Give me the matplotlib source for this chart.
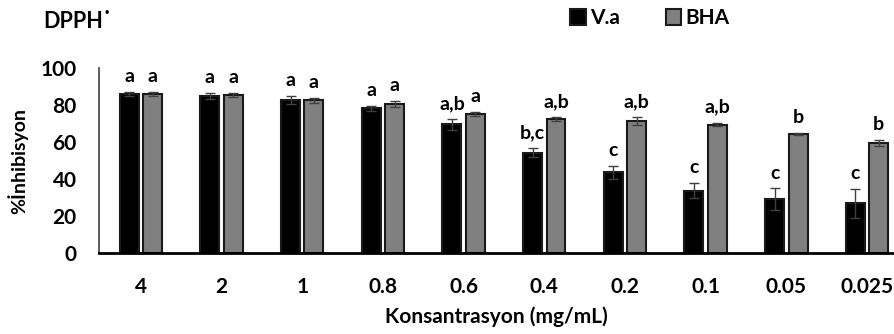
import matplotlib.pyplot as plt
import numpy as np

# concentrations (mg/mL)
conc = ['4', '2', '1', '0.8', '0.6', '0.4', '0.2', '0.1', '0.05', '0.025']

va = [86.0, 85.0, 82.7, 78.2, 69.7, 54.2, 43.6, 33.7, 29.2, 26.9]
va_err = [1.2, 1.5, 2.0, 1.2, 2.9, 2.4, 3.6, 4.0, 5.7, 7.9]
bha = [86.0, 85.5, 82.5, 80.5, 75.1, 72.4, 71.5, 69.5, 64.2, 59.6]
bha_err = [1.2, 1.2, 1.5, 1.5, 1.0, 1.0, 2.0, 1.0, 0.5, 1.5]

va_letters = ['a', 'a', 'a', 'a', 'a,b', 'b,c', 'c', 'c', 'c', 'c']
bha_letters = ['a', 'a', 'a', 'a', 'a', 'a,b', 'a,b', 'a,b', 'b', 'b']

plt.rcParams['font.family'] = ['Lato', 'DejaVu Sans']
plt.rcParams['font.weight'] = 'bold'

fig = plt.figure(figsize=(8.94, 3.34), dpi=100)
ax = fig.add_axes([0.1107, 0.2425, 0.888, 0.5535])

x = np.arange(len(conc))
w = 0.235
off = 0.145
ekw = dict(ecolor='#404040', elinewidth=1.0, capsize=3.5, capthick=1.0)

ax.bar(x - off, va, w, yerr=va_err, color='black', edgecolor='#1a1a1a',
       linewidth=1.5, error_kw=ekw, label='V.a')
ax.bar(x + off, bha, w, yerr=bha_err, color='#808080', edgecolor='#1a1a1a',
       linewidth=1.5, error_kw=ekw, label='BHA')

for i in range(len(conc)):
    ax.annotate(va_letters[i], (x[i] - off, va[i] + va_err[i]),
                xytext=(0, 5), textcoords='offset points',
                ha='center', va='bottom', fontsize=14, fontweight='bold')
    ax.annotate(bha_letters[i], (x[i] + off, bha[i] + bha_err[i]),
                xytext=(0, 5), textcoords='offset points',
                ha='center', va='bottom', fontsize=14, fontweight='bold')

ax.set_xlim(-0.52, 9.32)
ax.set_ylim(0, 100)
ax.set_yticks([0, 20, 40, 60, 80, 100])
ax.set_xticks(x)
ax.set_xticklabels(conc)
ax.tick_params(axis='both', length=0, labelsize=15)
ax.tick_params(axis='y', pad=16)
ax.tick_params(axis='x', pad=17)

for s in ['top', 'right']:
    ax.spines[s].set_visible(False)
ax.spines['left'].set_color('#404040')
ax.spines['left'].set_linewidth(1.2)
ax.spines['bottom'].set_linewidth(2)

ax.set_ylabel('%İnhibisyon', fontsize=14, fontweight='bold', labelpad=9)
ax.set_xlabel('Konsantrasyon (mg/mL)', fontsize=15, fontweight='bold', labelpad=7)

fig.text(0.048, 0.935, 'DPPH˙', fontsize=15.5, fontweight='bold',
         ha='left', va='center')

fig.legend(loc='center', bbox_to_anchor=(0.727, 0.945), ncol=2, frameon=False,
           handlelength=0.75, handleheight=0.75, handletextpad=0.2,
           columnspacing=2.2, prop={'weight': 'bold', 'size': 15})

fig.savefig('out.png', dpi=100)
